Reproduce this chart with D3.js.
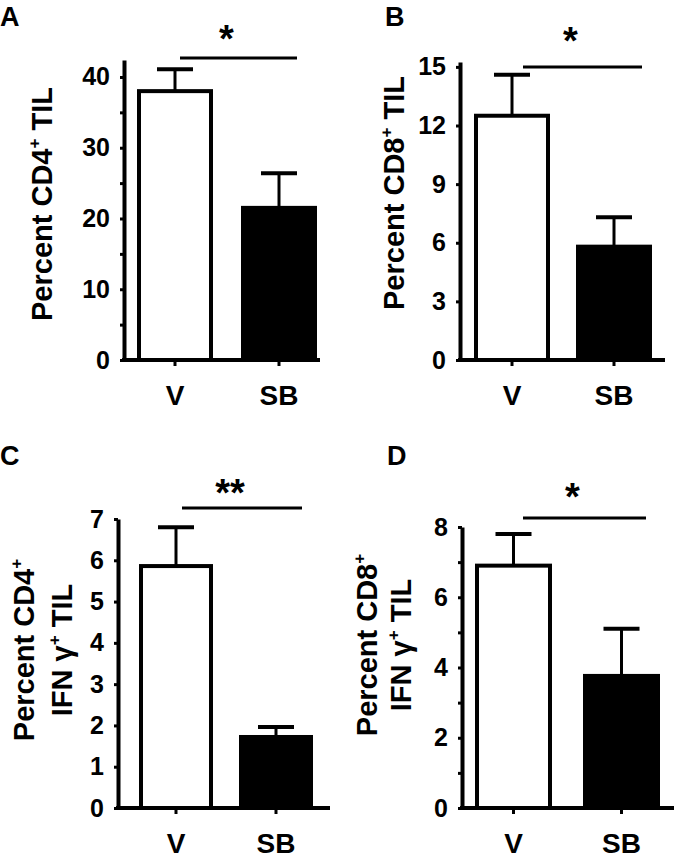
<!DOCTYPE html>
<html>
<head>
<meta charset="utf-8">
<script src="https://cdn.jsdelivr.net/npm/d3@7"></script>
<style>
  body { margin: 0; background: #fff; }
  svg { display: block; font-family: "Liberation Sans", Arial, sans-serif; font-weight: bold; }
</style>
</head>
<body>
<svg id="chart" width="674" height="861"></svg>
<script>
// values
var categories = ["V", "SB"];

var cd4Mean = [38.0, 21.5],  cd4Sem = [3.1, 4.9];
var cd8Mean = [12.5, 5.8],   cd8Sem = [2.1, 1.5];
var cd4IfnMean = [5.86, 1.72], cd4IfnSem = [0.94, 0.24];
var cd8IfnMean = [6.9, 3.76],  cd8IfnSem = [0.9, 1.34];

var ticksA = [0, 10, 20, 30, 40],   minorA = [0, 5, 10, 15, 20, 25, 30, 35, 40];
var ticksB = [0, 3, 6, 9, 12, 15],  minorB = [0, 3, 6, 9, 12, 15];
var ticksC = [0, 1, 2, 3, 4, 5, 6, 7], minorC = [0, 1, 2, 3, 4, 5, 6, 7];
var ticksD = [0, 2, 4, 6, 8],       minorD = [0, 1, 2, 3, 4, 5, 6, 7, 8];

var sigLabels = ["*", "*", "**", "*"];

var svg = d3.select("#chart");

var panels = [
  { letter: "A", mean: cd4Mean, sem: cd4Sem, ticks: ticksA, minor: minorA, yMax: 42.4,
    axisX: 124, y0: 360, yTop: 60, xEnd: 320, step: 104, barW: 72, offset: 15,
    label: [["Percent CD4", "+", " TIL"]], labelX: [52], labelY: 204,
    letterX: 0, letterY: 26, sigY: 58, sigX: [180, 297], starY: 52 },
  { letter: "B", mean: cd8Mean, sem: cd8Sem, ticks: ticksB, minor: minorB, yMax: 15.25,
    axisX: 460, y0: 360, yTop: 62, xEnd: 665, step: 102, barW: 72, offset: 16,
    label: [["Percent CD8", "+", " TIL"]], labelX: [404], labelY: 193,
    letterX: 385, letterY: 26, sigY: 67, sigX: [523, 642], starY: 54 },
  { letter: "C", mean: cd4IfnMean, sem: cd4IfnSem, ticks: ticksC, minor: minorC, yMax: 7,
    axisX: 118, y0: 808, yTop: 519, xEnd: 330, step: 100, barW: 70, offset: 23,
    label: [["Percent CD4", "+", ""], ["IFN \u03b3", "+", " TIL"]], labelX: [34, 72], labelY: 650,
    letterX: 0, letterY: 465, sigY: 508, sigX: [182, 302], starY: 506 },
  { letter: "D", mean: cd8IfnMean, sem: cd8IfnSem, ticks: ticksD, minor: minorD, yMax: 8,
    axisX: 462, y0: 808, yTop: 527, xEnd: 674, step: 108, barW: 73, offset: 15,
    label: [["Percent CD8", "+", ""], ["IFN \u03b3", "+", " TIL"]], labelX: [377, 411], labelY: 645,
    letterX: 387, letterY: 465, sigY: 518, sigX: [523, 646], starY: 510 }
];

panels.forEach(function(p, i) {
  var g = svg.append("g");

  var y = d3.scaleLinear().domain([0, p.yMax]).range([p.y0, p.yTop]);
  var x = d3.scaleBand()
    .domain(categories)
    .range([p.axisX, p.axisX + p.step + p.barW + 2 * p.offset])
    .paddingInner(1 - p.barW / p.step)
    .paddingOuter(p.offset / p.step);

  // y axis
  var yAxis = g.append("g")
    .attr("transform", "translate(" + p.axisX + ",0)")
    .call(d3.axisLeft(y)
      .tickValues(p.minor)
      .tickSize(4)
      .tickSizeOuter(0)
      .tickPadding(10)
      .tickFormat(function(d) { return p.ticks.indexOf(d) >= 0 ? d : ""; }));
  yAxis.select(".domain").attr("stroke-width", 4);
  yAxis.selectAll(".tick line").attr("stroke-width", 3);
  yAxis.selectAll(".tick text")
    .attr("font-size", 25)
    .attr("font-family", "Liberation Sans, Arial, sans-serif")
    .attr("font-weight", "bold");

  // x axis
  var xAxis = g.append("g")
    .attr("transform", "translate(0," + p.y0 + ")")
    .call(d3.axisBottom(x).tickSize(6).tickSizeOuter(0).tickPadding(19));
  xAxis.select(".domain").remove();
  xAxis.selectAll(".tick line")
    .attr("stroke-width", 3);
  xAxis.selectAll(".tick text")
    .attr("font-size", 28)
    .attr("font-family", "Liberation Sans, Arial, sans-serif")
    .attr("font-weight", "bold");
  g.append("line")
    .attr("x1", p.axisX - 2).attr("x2", p.xEnd)
    .attr("y1", p.y0).attr("y2", p.y0)
    .attr("stroke", "black").attr("stroke-width", 4);

  // bars
  g.selectAll(".bar")
    .data(categories)
    .enter().append("rect")
    .attr("class", "bar")
    .attr("x", function(d) { return x(d); })
    .attr("width", x.bandwidth())
    .attr("y", function(d, j) { return y(p.mean[j]); })
    .attr("height", function(d, j) { return p.y0 - y(p.mean[j]); })
    .attr("fill", function(d, j) { return j === 0 ? "white" : "black"; })
    .attr("stroke", "black")
    .attr("stroke-width", 4);

  // error bars (upper only)
  categories.forEach(function(c, j) {
    var cx = x(c) + x.bandwidth() / 2;
    g.append("line")
      .attr("x1", cx).attr("x2", cx)
      .attr("y1", y(p.mean[j])).attr("y2", y(p.mean[j] + p.sem[j]))
      .attr("stroke", "black").attr("stroke-width", 3);
    g.append("line")
      .attr("x1", cx - 18).attr("x2", cx + 18)
      .attr("y1", y(p.mean[j] + p.sem[j])).attr("y2", y(p.mean[j] + p.sem[j]))
      .attr("stroke", "black").attr("stroke-width", 4);
  });

  // significance
  g.append("line")
    .attr("x1", p.sigX[0]).attr("x2", p.sigX[1])
    .attr("y1", p.sigY).attr("y2", p.sigY)
    .attr("stroke", "black").attr("stroke-width", 3);
  g.append("text")
    .attr("x", (p.sigX[0] + p.sigX[1]) / 2 - 12)
    .attr("y", p.starY)
    .attr("text-anchor", "middle")
    .attr("font-size", 38)
    .text(sigLabels[i]);

  // y label
  p.label.forEach(function(line, k) {
    var t = g.append("text")
      .attr("transform", "translate(" + p.labelX[k] + "," + p.labelY + ") rotate(-90)")
      .attr("text-anchor", "middle")
      .attr("font-size", 29);
    t.append("tspan").text(line[0]);
    t.append("tspan").attr("font-size", 17).attr("dy", -12).text(line[1]);
    t.append("tspan").attr("dy", 12).text(line[2]);
  });

  // panel letter
  g.append("text")
    .attr("x", p.letterX)
    .attr("y", p.letterY)
    .attr("font-size", 27)
    .text(p.letter);
});
</script>
</body>
</html>
